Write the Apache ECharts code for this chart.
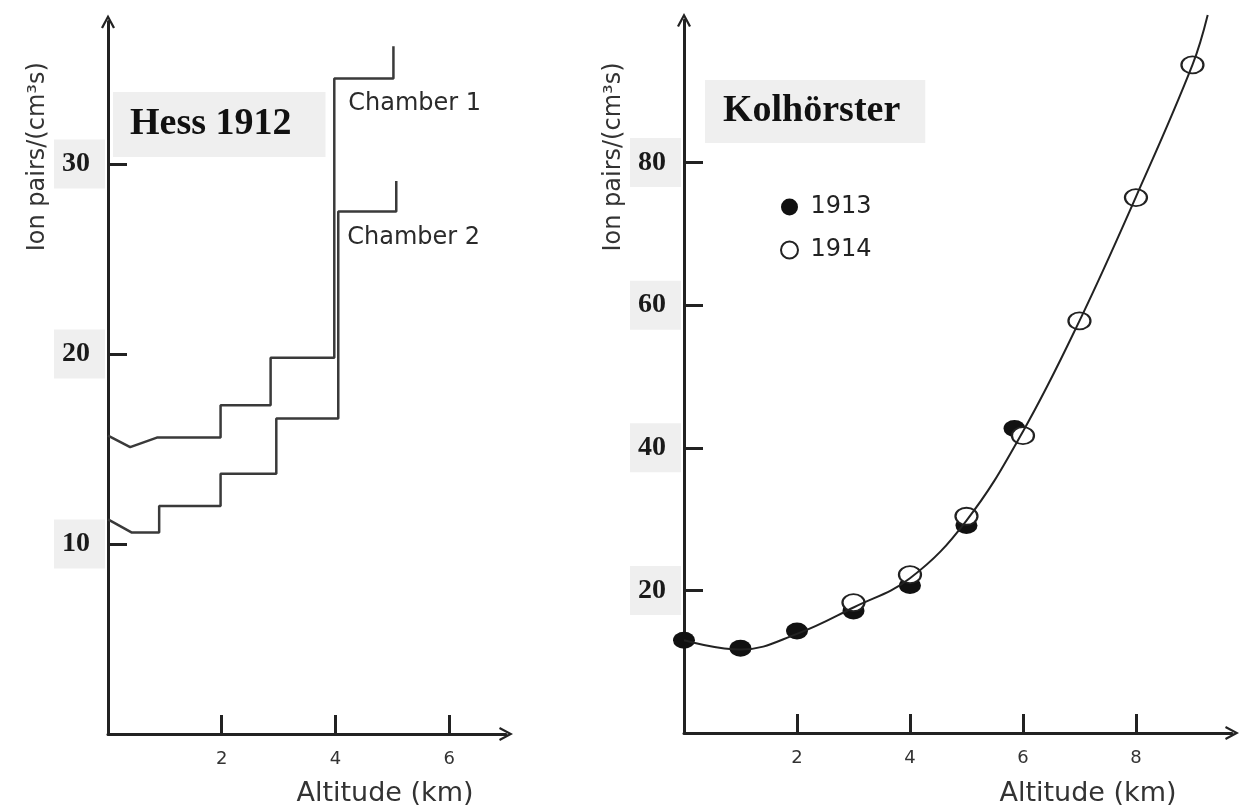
<!DOCTYPE html>
<html>
<head>
<meta charset="utf-8">
<script src="https://cdn.jsdelivr.net/npm/echarts@6/dist/echarts.min.js"></script>
<style>
html,body{margin:0;padding:0;background:#fff;}
#chart{width:1243px;height:808px;}
</style>
</head>
<body>
<div id="chart"></div>
<script>
// ---- Data: Hess 1912 (left panel) ----
const hessChamber1X = [0, 0.39, 0.86, 1.98, 1.98, 2.86, 2.86, 3.98, 3.98, 5.02, 5.02];
const hessChamber1Y = [15.7, 15.1, 15.6, 15.6, 17.3, 17.3, 19.8, 19.8, 34.5, 34.5, 36.2];
const hessChamber2X = [0, 0.42, 0.9, 0.9, 1.98, 1.98, 2.96, 2.96, 4.05, 4.05, 5.07, 5.07];
const hessChamber2Y = [11.3, 10.6, 10.6, 12.0, 12.0, 13.7, 13.7, 16.6, 16.6, 27.5, 27.5, 29.1];
const chamber1LabelIndex = 8;
const chamber2LabelIndex = 9;

// ---- Data: Kolhörster (right panel) ----
const kol1913X = [0, 1, 2, 3, 4, 5, 5.85];
const kol1913Y = [13.0, 11.9, 14.3, 17.1, 20.7, 29.1, 42.7];
const kol1914X = [3, 4, 5, 6, 7, 8, 9];
const kol1914Y = [18.3, 22.2, 30.4, 41.7, 57.8, 75.1, 93.7];
const kolCurveX = [0, 1, 2, 3, 4, 5, 6, 7, 8, 9, 9.27];
const kolCurveY = [13.0, 11.7, 13.9, 17.6, 21.7, 29.8, 42.3, 57.8, 75.2, 93.7, 100.7];

// ---- Tick labels ----
const hessXTicks = [2, 4, 6];
const hessYTicks = [10, 20, 30];
const kolXTicks = [2, 4, 6, 8];
const kolYTicks = [20, 40, 60, 80];

const yName = 'Ion pairs/(cm\u00b3s)';
const xName = 'Altitude (km)';

const pairs = (xs, ys) => xs.map((x, i) => [x, ys[i]]);

const chevron = 'path://M0,13 L7,0 L14,13 L12,14 L7,4.5 L2,14 Z';
const axisColor = '#222';

function axisLine() {
  return {
    show: true,
    onZero: false,
    symbol: ['none', chevron],
    symbolSize: [14, 15],
    lineStyle: { color: axisColor, width: 3 }
  };
}
function axisTick(values) {
  return { show: true, inside: true, length: 19, customValues: values, lineStyle: { color: axisColor, width: 3 } };
}
const yLabel = (values) => ({
  show: true, customValues: values, margin: 3,
  fontFamily: 'Liberation Serif', fontWeight: 'bold', fontSize: 28, color: '#1a1a1a',
  lineHeight: 28, backgroundColor: '#efefef', padding: [13, 15, 8, 8]
});
const xLabel = (values) => ({
  show: true, customValues: values, margin: 16,
  fontFamily: 'DejaVu Sans', fontSize: 18, color: '#333'
});

const chamber1Data = hessChamber1X.map((x, i) => ({ value: [x, hessChamber1Y[i]] }));
chamber1Data[chamber1LabelIndex].label = { show: true, formatter: 'Chamber 1', position: 'right', distance: 0, offset: [14, 25] };
const chamber2Data = hessChamber2X.map((x, i) => ({ value: [x, hessChamber2Y[i]] }));
chamber2Data[chamber2LabelIndex].label = { show: true, formatter: 'Chamber 2', position: 'right', distance: 0, offset: [9, 26] };

const chamberLabelStyle = { fontFamily: 'DejaVu Sans', fontSize: 24, color: '#2a2a2a' };

const chart = echarts.init(document.getElementById('chart'), null, { renderer: 'canvas' });
chart.setOption({
  backgroundColor: '#ffffff',
  animation: false,
  title: [
    { text: 'Hess 1912', left: 113, top: 92, backgroundColor: '#efefef', padding: [13, 34, 13, 17],
      textStyle: { fontFamily: 'Liberation Serif', fontWeight: 'bold', fontSize: 38, lineHeight: 39, color: '#111' } },
    { text: 'Kolhörster', left: 705, top: 80, backgroundColor: '#efefef', padding: [12, 25, 12, 18],
      textStyle: { fontFamily: 'Liberation Serif', fontWeight: 'bold', fontSize: 38, lineHeight: 39, color: '#111' } }
  ],
  legend: {
    data: ['1913', '1914'], orient: 'vertical', left: 775, top: 190,
    itemWidth: 20, itemHeight: 17, itemGap: 19,
    textStyle: { fontFamily: 'DejaVu Sans', fontSize: 24, lineHeight: 24, color: '#222', padding: [0, 0, 0, 6] },
    selectedMode: false
  },
  grid: [
    { left: 108, top: 21.5, width: 398, height: 712.5, outerBoundsMode: 'none', containLabel: false },
    { left: 684, top: 20, width: 548, height: 713, outerBoundsMode: 'none', containLabel: false }
  ],
  xAxis: [
    { gridIndex: 0, type: 'value', min: 0, max: 7, interval: 2,
      axisLine: axisLine(), axisTick: axisTick(hessXTicks), axisLabel: xLabel(hessXTicks), splitLine: { show: false },
      name: xName, nameLocation: 'middle', nameGap: 46,
      nameTextStyle: { fontFamily: 'DejaVu Sans', fontSize: 27, color: '#333', padding: [0, 0, 0, 156] } },
    { gridIndex: 1, type: 'value', min: 0, max: 9.7, interval: 2,
      axisLine: axisLine(), axisTick: axisTick(kolXTicks), axisLabel: xLabel(kolXTicks), splitLine: { show: false },
      name: xName, nameLocation: 'middle', nameGap: 47,
      nameTextStyle: { fontFamily: 'DejaVu Sans', fontSize: 27, color: '#333', padding: [0, 0, 0, 260] } }
  ],
  yAxis: [
    { gridIndex: 0, type: 'value', min: 0, max: 37.5, interval: 10,
      axisLine: axisLine(), axisTick: axisTick(hessYTicks), axisLabel: yLabel(hessYTicks), splitLine: { show: false },
      name: yName, nameLocation: 'middle', nameRotate: 90, nameGap: 57,
      nameTextStyle: { fontFamily: 'DejaVu Sans', fontSize: 24, color: '#333', padding: [0, 0, 0, 442] } },
    { gridIndex: 1, type: 'value', min: 0, max: 100, interval: 20,
      axisLine: axisLine(), axisTick: axisTick(kolYTicks), axisLabel: yLabel(kolYTicks), splitLine: { show: false },
      name: yName, nameLocation: 'middle', nameRotate: 90, nameGap: 54,
      nameTextStyle: { fontFamily: 'DejaVu Sans', fontSize: 24, color: '#333', padding: [0, 0, 0, 439] } }
  ],
  series: [
    { name: 'Chamber 1', type: 'line', xAxisIndex: 0, yAxisIndex: 0, data: chamber1Data,
      showSymbol: true, symbol: 'circle', symbolSize: 0, silent: true,
      lineStyle: { color: '#3a3a3a', width: 2.5 }, itemStyle: { color: '#3a3a3a' },
      label: Object.assign({ show: false }, chamberLabelStyle), emphasis: { disabled: true } },
    { name: 'Chamber 2', type: 'line', xAxisIndex: 0, yAxisIndex: 0, data: chamber2Data,
      showSymbol: true, symbol: 'circle', symbolSize: 0, silent: true,
      lineStyle: { color: '#3a3a3a', width: 2.5 }, itemStyle: { color: '#3a3a3a' },
      label: Object.assign({ show: false }, chamberLabelStyle), emphasis: { disabled: true } },
    { name: '1913', type: 'scatter', xAxisIndex: 1, yAxisIndex: 1, data: pairs(kol1913X, kol1913Y),
      symbol: 'circle', symbolSize: [22, 17], z: 2, silent: true,
      itemStyle: { color: '#111', opacity: 1 }, emphasis: { disabled: true } },
    { name: '1914', type: 'scatter', xAxisIndex: 1, yAxisIndex: 1, data: pairs(kol1914X, kol1914Y),
      symbol: 'circle', symbolSize: [22, 17], z: 3, silent: true,
      itemStyle: { color: '#ffffff', borderColor: '#222', borderWidth: 2, opacity: 1 }, emphasis: { disabled: true } },
    { name: 'fit', type: 'line', xAxisIndex: 1, yAxisIndex: 1, data: pairs(kolCurveX, kolCurveY),
      smooth: 0.4, showSymbol: false, clip: false, z: 5, silent: true,
      lineStyle: { color: '#222', width: 2 }, emphasis: { disabled: true } }
  ]
});
</script>
</body>
</html>
